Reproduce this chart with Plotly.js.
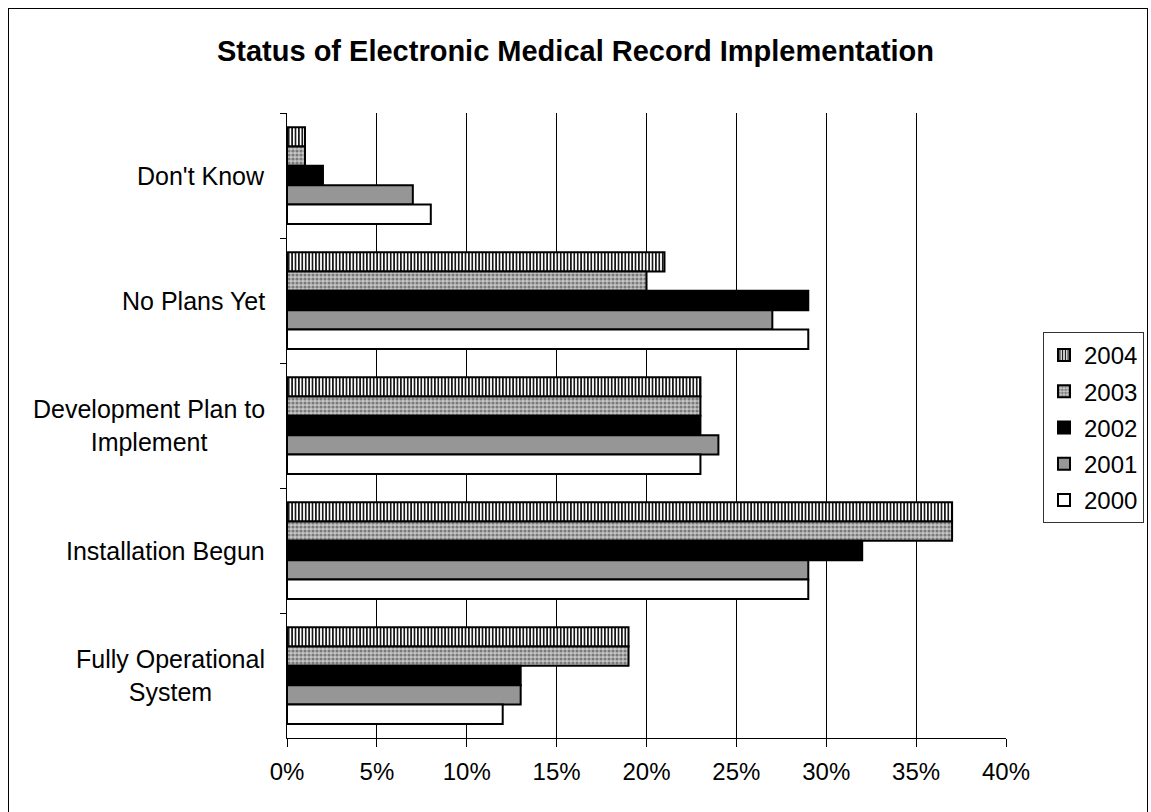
<!DOCTYPE html>
<html>
<head>
<meta charset="utf-8">
<script src="https://cdn.plot.ly/plotly-3.0.1.min.js"></script>
<style>
  html, body { margin: 0; padding: 0; background: #ffffff; }
  #wrap { position: relative; width: 1151px; height: 812px; overflow: hidden; }
  #chart { position: absolute; left: 0; top: 0; width: 1151px; height: 812px; }
  #frame { position: absolute; left: 8px; top: 8px; width: 1140px; height: 820px;
           border: 1px solid #000; box-sizing: border-box; pointer-events: none; }
</style>
</head>
<body>
<div id="wrap">
  <div id="chart"></div>
  <div id="frame"></div>
</div>
<script>
// ---- data ----
const categories = ["Don't Know", "No Plans Yet", "Development Plan to Implement", "Installation Begun", "Fully Operational System"];
const categoryLabels = ["Don't Know", "No Plans Yet", "Development Plan to<br>Implement", "Installation Begun", "Fully Operational<br>System"];
const years = ["2004", "2003", "2002", "2001", "2000"];
const values2004 = [1, 21, 23, 37, 19];
const values2003 = [1, 20, 23, 37, 19];
const values2002 = [2, 29, 23, 32, 13];
const values2001 = [7, 27, 24, 29, 13];
const values2000 = [8, 29, 23, 29, 12];
const xTickValues = [0, 5, 10, 15, 20, 25, 30, 35, 40];
const xTickLabels = ["0%", "5%", "10%", "15%", "20%", "25%", "30%", "35%", "40%"];
const chartTitle = "Status of Electronic Medical Record Implementation";

// ---- styles ----
const seriesValues = [values2004, values2003, values2002, values2001, values2000];
const seriesMarkers = [
  { color: "#ffffff", pattern: { shape: "|", fgcolor: "#000000", bgcolor: "#ffffff", size: 3.4, solidity: 0.45 } },
  { color: "#bdbdbd", pattern: { shape: ".", fgcolor: "#7a7a7a", bgcolor: "#c6c6c6", size: 4, solidity: 0.5 } },
  { color: "#000000" },
  { color: "#969696" },
  { color: "#ffffff" }
];

const traces = years.map((yr, i) => ({
  type: "bar",
  orientation: "h",
  name: yr,
  legendgroup: yr,
  x: seriesValues[i],
  y: categories,
  marker: Object.assign({ line: { color: "#000000", width: 2 } }, seriesMarkers[i]),
  hoverinfo: "x+y+name"
}));

const font = "Liberation Sans, Arial, sans-serif";

const annotations = categories.map((c, i) => ({
  xref: "paper", yref: "y",
  x: 0, y: c,
  xanchor: "right", yanchor: "middle",
  xshift: -20,
  align: "center",
  showarrow: false,
  text: categoryLabels[i],
  font: { family: font, size: 25, color: "#000000" }
}));

const layout = {
  width: 1151,
  height: 812,
  paper_bgcolor: "#ffffff",
  plot_bgcolor: "#ffffff",
  margin: { l: 287, r: 145, t: 113, b: 74, autoexpand: false },
  title: {
    text: "<b>" + chartTitle + "</b>",
    font: { family: font, size: 29, color: "#000000" },
    x: 0.5, xanchor: "center",
    y: 1 - 51 / 812, yanchor: "middle"
  },
  barmode: "group",
  bargap: 0.226,
  bargroupgap: 0,
  xaxis: {
    range: [0, 40],
    tickvals: xTickValues,
    ticktext: xTickLabels,
    showgrid: true,
    gridcolor: "#000000",
    gridwidth: 1,
    zeroline: false,
    showline: true,
    linecolor: "#000000",
    linewidth: 1,
    ticks: "outside",
    ticklen: 8,
    tickcolor: "#000000",
    ticklabelstandoff: 4,
    tickfont: { family: font, size: 24, color: "#000000" },
    fixedrange: true
  },
  yaxis: {
    type: "category",
    autorange: "reversed",
    showticklabels: false,
    showgrid: false,
    zeroline: false,
    showline: true,
    linecolor: "#000000",
    linewidth: 1,
    ticks: "outside",
    tickson: "boundaries",
    ticklen: 6,
    tickcolor: "#000000",
    fixedrange: true
  },
  showlegend: true,
  legend: {
    x: (1043 - 287) / 719,
    xanchor: "left",
    y: (738 - 332) / 625,
    yanchor: "top",
    bgcolor: "#ffffff",
    bordercolor: "#333333",
    borderwidth: 1,
    font: { family: font, size: 24, color: "#000000" },
    tracegroupgap: 2,
    itemwidth: 30
  },
  annotations: annotations
};

Plotly.newPlot("chart", traces, layout, { displayModeBar: false, staticPlot: true });
</script>
</body>
</html>
